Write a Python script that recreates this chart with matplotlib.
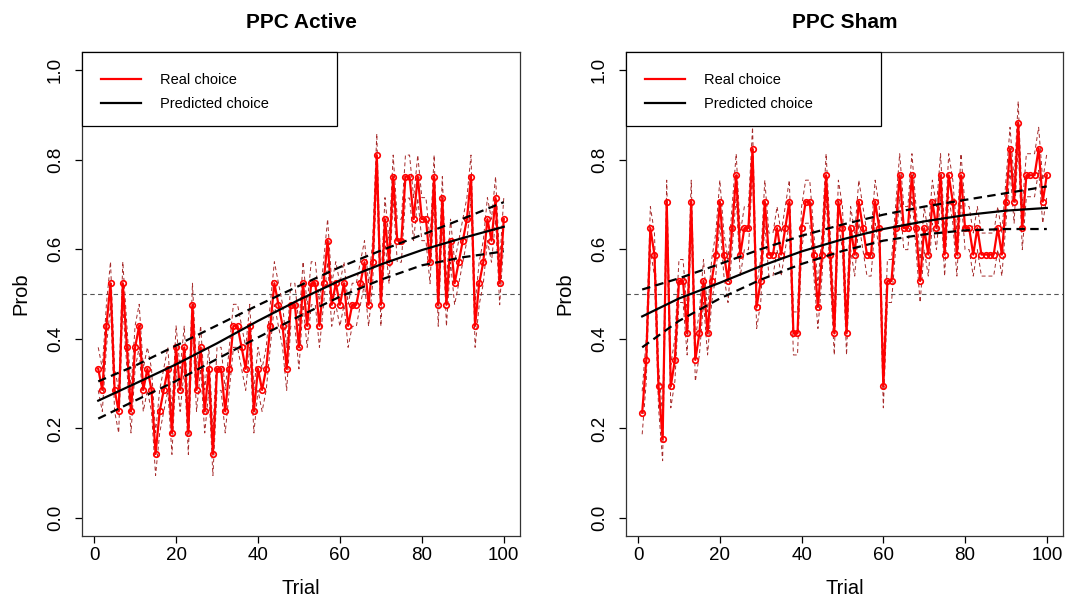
import numpy as np
import matplotlib
matplotlib.use("Agg")
import matplotlib.pyplot as plt
from matplotlib.patches import Rectangle
from matplotlib.lines import Line2D

plt.rcParams['font.family'] = ['Liberation Sans', 'DejaVu Sans']

# ---------------- data ----------------
trials = list(range(1, 101))

active_real = [
    0.333, 0.286, 0.429, 0.524, 0.286, 0.238, 0.524, 0.381, 0.238, 0.381,
    0.429, 0.286, 0.333, 0.286, 0.143, 0.238, 0.286, 0.333, 0.190, 0.381,
    0.286, 0.381, 0.190, 0.476, 0.286, 0.381, 0.238, 0.333, 0.143, 0.333,
    0.333, 0.238, 0.333, 0.429, 0.429, 0.381, 0.333, 0.429, 0.238, 0.333,
    0.286, 0.333, 0.429, 0.524, 0.476, 0.429, 0.333, 0.476, 0.476, 0.381,
    0.524, 0.429, 0.524, 0.524, 0.429, 0.524, 0.619, 0.476, 0.524, 0.476,
    0.524, 0.429, 0.476, 0.476, 0.524, 0.571, 0.476, 0.571, 0.810, 0.476,
    0.667, 0.571, 0.762, 0.619, 0.619, 0.762, 0.762, 0.667, 0.762, 0.667,
    0.667, 0.571, 0.762, 0.476, 0.714, 0.476, 0.619, 0.524, 0.571, 0.619,
    0.667, 0.762, 0.429, 0.524, 0.571, 0.667, 0.619, 0.714, 0.524, 0.667,
]

sham_real = [
    0.235, 0.353, 0.647, 0.588, 0.294, 0.176, 0.706, 0.294, 0.353, 0.529,
    0.529, 0.412, 0.706, 0.353, 0.412, 0.529, 0.412, 0.529, 0.588, 0.706,
    0.588, 0.529, 0.647, 0.765, 0.588, 0.647, 0.647, 0.824, 0.471, 0.529,
    0.706, 0.588, 0.588, 0.647, 0.588, 0.647, 0.706, 0.412, 0.412, 0.647,
    0.706, 0.706, 0.588, 0.471, 0.588, 0.765, 0.588, 0.412, 0.706, 0.647,
    0.412, 0.647, 0.588, 0.706, 0.647, 0.588, 0.588, 0.706, 0.647, 0.294,
    0.529, 0.529, 0.647, 0.765, 0.647, 0.647, 0.765, 0.647, 0.529, 0.647,
    0.588, 0.706, 0.647, 0.765, 0.588, 0.765, 0.706, 0.588, 0.765, 0.647,
    0.647, 0.588, 0.647, 0.588, 0.588, 0.588, 0.588, 0.647, 0.588, 0.706,
    0.824, 0.706, 0.882, 0.647, 0.765, 0.765, 0.765, 0.824, 0.706, 0.765,
]

# half-width of the thin dashed band drawn around the real choice
real_band = 0.048

fit_trials = [1, 10, 20, 30, 40, 50, 60, 70, 80, 90, 100]
active_pred = [0.262, 0.300, 0.343, 0.390, 0.440, 0.487, 0.530, 0.566, 0.598, 0.625, 0.650]
active_hi = [0.305, 0.340, 0.385, 0.430, 0.475, 0.518, 0.560, 0.597, 0.632, 0.668, 0.705]
active_lo = [0.222, 0.262, 0.306, 0.355, 0.403, 0.450, 0.494, 0.532, 0.564, 0.582, 0.595]

sham_pred = [0.450, 0.490, 0.525, 0.562, 0.595, 0.622, 0.645, 0.662, 0.676, 0.686, 0.692]
sham_hi = [0.510, 0.535, 0.567, 0.600, 0.630, 0.655, 0.677, 0.695, 0.710, 0.725, 0.740]
sham_lo = [0.381, 0.440, 0.490, 0.532, 0.567, 0.596, 0.619, 0.633, 0.642, 0.645, 0.645]

titles = ["PPC Active", "PPC Sham"]
legend_labels = ["Real choice", "Predicted choice"]
xticks = [0, 20, 40, 60, 80, 100]
yticks = [0.0, 0.2, 0.4, 0.6, 0.8, 1.0]
x_label = "Trial"
y_label = "Prob"
ref_level = 0.5

panels = [
    (active_real, active_pred, active_lo, active_hi),
    (sham_real, sham_pred, sham_lo, sham_hi),
]

# ---------------- figure ----------------
W, H = 1069, 599
fig = plt.figure(figsize=(W / 100, H / 100), dpi=100)
axes_px = [(82, 52, 520, 536), (626, 52, 1063, 536)]

red = '#FF0000'
band_col = '#A52A2A'
spine_col = '#333333'

for i, (ax_box, (real, pred, lo, hi)) in enumerate(zip(axes_px, panels)):
    x0, y0, x1, y1 = ax_box
    ax = fig.add_axes([x0 / W, 1 - y1 / H, (x1 - x0) / W, (y1 - y0) / H])

    real_arr = np.asarray(real)
    ax.plot(trials, real_arr + real_band, color=band_col, lw=0.7,
            dashes=(4, 3), zorder=2)
    ax.plot(trials, real_arr - real_band, color=band_col, lw=0.7,
            dashes=(4, 3), zorder=2)
    ax.plot(trials, real_arr, color=red, lw=1.6, marker='o', markersize=4,
            markerfacecolor='none', markeredgecolor=red, markeredgewidth=1.2,
            zorder=3)

    ax.axhline(ref_level, color='#555555', lw=0.8, dashes=(4, 3), zorder=1)

    ax.plot(fit_trials, pred, color='black', lw=1.6, zorder=4)
    ax.plot(fit_trials, lo, color='black', lw=1.6, dashes=(3.8, 2.4), zorder=4)
    ax.plot(fit_trials, hi, color='black', lw=1.6, dashes=(3.8, 2.4), zorder=4)

    ax.set_xlim(1 - 0.04 * 99, 100 + 0.04 * 99)
    ax.set_ylim(-0.04, 1.04)
    ax.set_xticks(xticks)
    ax.set_xticklabels([str(t) for t in xticks], fontsize=13.5)
    ax.set_yticks(yticks)
    ax.set_yticklabels([f"{t:.1f}" for t in yticks], fontsize=13.5,
                       rotation=90, va='center')
    ax.tick_params(axis='both', direction='out', length=5, width=0.9,
                   colors='black')
    ax.tick_params(axis='x', pad=3)
    ax.tick_params(axis='y', pad=8)
    for s in ax.spines.values():
        s.set_color(spine_col)
        s.set_linewidth(0.9)

    ax.set_xlabel(x_label, fontsize=14.5, labelpad=11)
    ax.set_ylabel(y_label, fontsize=14.5, labelpad=12)
    ax.set_title(titles[i], fontsize=15, fontweight='bold', pad=17.5)

    # legend box
    box_h = 74 / (y1 - y0)
    ax.add_patch(Rectangle((0, 1 - box_h), 255 / (x1 - x0), box_h,
                           transform=ax.transAxes,
                           facecolor='white', edgecolor='black', lw=0.9,
                           zorder=5, clip_on=False))
    handles = [Line2D([], [], color=red, lw=1.6),
               Line2D([], [], color='black', lw=1.6)]
    leg = ax.legend(handles, legend_labels, loc='upper left',
                    bbox_to_anchor=(-0.006, 1.0), borderaxespad=0,
                    frameon=False, fontsize=10.5, borderpad=1.45,
                    labelspacing=0.7, handlelength=2.8, handletextpad=1.3)
    leg.set_zorder(6)

fig.savefig("out.png", dpi=100)
